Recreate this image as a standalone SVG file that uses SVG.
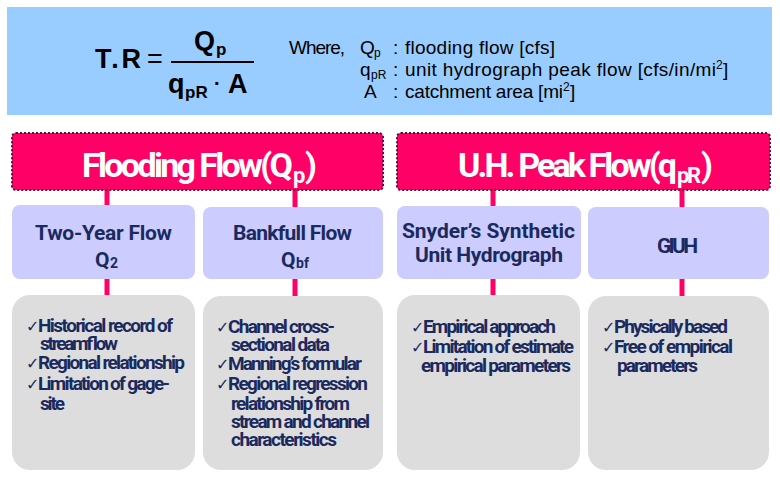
<svg xmlns="http://www.w3.org/2000/svg" width="780" height="482" viewBox="0 0 780 482">
<style>
.f{font-family:"Liberation Sans",Arial,sans-serif;fill:#000}
.fb{font-family:"Liberation Sans",Arial,sans-serif;font-weight:bold;fill:#000}
.hd{font-family:"Roboto","DejaVu Sans Condensed",sans-serif;font-weight:bold;fill:#fff;font-size:34px}
.hs{font-family:"Roboto","DejaVu Sans Condensed",sans-serif;font-weight:bold;fill:#fff;font-size:22px}
.nv{font-family:"Roboto","DejaVu Sans Condensed",sans-serif;font-weight:bold;fill:#1B2A5E;font-size:21px}
.ns{font-family:"Roboto","DejaVu Sans Condensed",sans-serif;font-weight:bold;fill:#1B2A5E;font-size:14px}
.it{font-family:"Roboto","DejaVu Sans Condensed",sans-serif;font-weight:bold;fill:#1B2A5E;font-size:19px}
.ck{font-family:"DejaVu Sans",sans-serif;fill:#1B2A5E;font-size:16px}
.hbox{fill:#FF0066;stroke:#5B0F2E;stroke-width:2;stroke-dasharray:2 2}
.sbox{fill:#CCCCFF}
.gbox{fill:#DDDDDD}
.cn{stroke:#FF0066;stroke-width:5}
</style>
<rect x="7" y="7" width="765" height="108" fill="#99CCFF"/>
<g id="formula">
<text class="fb" x="95" y="68" font-size="27" textLength="46">T.R</text>
<text class="f" x="147" y="68" font-size="27">=</text>
<text class="fb" x="194" y="50" font-size="27">Q</text>
<text class="fb" x="216" y="55" font-size="17">p</text>
<line x1="171" y1="62" x2="254" y2="62" stroke="#000" stroke-width="2"/>
<text class="fb" x="168" y="93" font-size="27">q</text>
<text class="fb" x="185" y="98" font-size="17">pR</text>
<text class="fb" x="214" y="90" font-size="20">·</text>
<text class="fb" x="228" y="93" font-size="27">A</text>
<text class="f" x="289" y="54" font-size="19" textLength="56">Where,</text>
<text class="f" x="360" y="54" font-size="19">Q</text>
<text class="f" x="374" y="57" font-size="12">p</text>
<text class="f" x="393" y="54" font-size="19">:</text>
<text class="f" x="405" y="54" font-size="19" textLength="150">flooding flow [cfs]</text>
<text class="f" x="360" y="76" font-size="19">q</text>
<text class="f" x="371" y="79" font-size="12">pR</text>
<text class="f" x="393" y="76" font-size="19">:</text>
<text class="f" x="405" y="76" font-size="19" textLength="311">unit hydrograph peak flow [cfs/in/mi</text>
<text class="f" x="716" y="69" font-size="12">2</text>
<text class="f" x="723" y="76" font-size="19">]</text>
<text class="f" x="364" y="98" font-size="19">A</text>
<text class="f" x="393" y="98" font-size="19">:</text>
<text class="f" x="405" y="98" font-size="19" textLength="158">catchment area [mi</text>
<text class="f" x="563" y="91" font-size="12">2</text>
<text class="f" x="570" y="98" font-size="19">]</text>
</g>
<g id="connectors">
<line class="cn" x1="107" y1="190" x2="107" y2="206"/>
<line class="cn" x1="295" y1="190" x2="295" y2="207"/>
<line class="cn" x1="493" y1="190" x2="493" y2="206"/>
<line class="cn" x1="682" y1="190" x2="682" y2="207"/>
<line class="cn" x1="107" y1="279" x2="107" y2="295"/>
<line class="cn" x1="295" y1="279" x2="295" y2="296"/>
<line class="cn" x1="493" y1="279" x2="493" y2="295"/>
<line class="cn" x1="682" y1="279" x2="682" y2="296"/>
</g>
<g id="flooding-flow">
<rect class="hbox" x="12" y="133" width="371" height="57" rx="4"/>
<text class="hd" x="82" y="177" textLength="211">Flooding Flow(Q</text>
<text class="hs" x="293" y="183">p</text>
<text class="hd" x="305" y="177">)</text>
</g>
<g id="uh-peak-flow">
<rect class="hbox" x="397" y="133" width="373" height="57" rx="4"/>
<text class="hd" x="458" y="177" textLength="219">U.H. Peak Flow(q</text>
<text class="hs" x="677" y="183" textLength="24">pR</text>
<text class="hd" x="701" y="177">)</text>
</g>
<g id="two-year-flow">
<rect class="sbox" x="12" y="205" width="183" height="74" rx="8"/>
<text class="nv" x="35" y="240" textLength="137">Two-Year Flow</text>
<text class="nv" x="95" y="267">Q</text>
<text class="ns" x="110" y="268">2</text>
</g>
<g id="bankfull-flow">
<rect class="sbox" x="203" y="207" width="180" height="72" rx="8"/>
<text class="nv" x="281" y="267">Q</text>
<text class="nv" x="233" y="240" textLength="119">Bankfull Flow</text>
<text class="ns" x="296" y="268">bf</text>
</g>
<g id="snyder">
<rect class="sbox" x="397" y="206" width="184" height="73" rx="8"/>
<text class="nv" x="402" y="238" textLength="173">Snyder’s Synthetic</text>
<text class="nv" x="415" y="262" textLength="148">Unit Hydrograph</text>
</g>
<g id="giuh">
<rect class="sbox" x="588" y="207" width="181" height="72" rx="8"/>
<text class="nv" x="657" y="253" textLength="41">GIUH</text>
</g>
<g id="two-year-notes">
<rect class="gbox" x="12" y="295" width="183" height="175" rx="18"/>
<text class="ck" x="26" y="332">✓</text>
<text class="it" x="38" y="332" textLength="135">Historical record of</text>
<text class="it" x="40" y="350" textLength="78">streamflow</text>
<text class="ck" x="26" y="369">✓</text>
<text class="it" x="38" y="369" textLength="147">Regional relationship</text>
<text class="ck" x="26" y="390">✓</text>
<text class="it" x="38" y="390" textLength="132">Limitation of gage-</text>
<text class="it" x="40" y="410" textLength="25">site</text>
</g>
<g id="bankfull-notes">
<rect class="gbox" x="203" y="296" width="180" height="174" rx="18"/>
<text class="ck" x="216" y="333">✓</text>
<text class="it" x="228" y="333" textLength="107">Channel cross-</text>
<text class="it" x="231" y="351" textLength="99">sectional data</text>
<text class="ck" x="216" y="370">✓</text>
<text class="it" x="228" y="370" textLength="134">Manning’s formular</text>
<text class="ck" x="216" y="390">✓</text>
<text class="it" x="228" y="390" textLength="140">Regional regression</text>
<text class="it" x="231" y="410" textLength="119">relationship from</text>
<text class="it" x="231" y="428" textLength="139">stream and channel</text>
<text class="it" x="231" y="446" textLength="106">characteristics</text>
</g>
<g id="snyder-notes">
<rect class="gbox" x="397" y="295" width="183" height="175" rx="18"/>
<text class="ck" x="411" y="333">✓</text>
<text class="it" x="423" y="333" textLength="133">Empirical approach</text>
<text class="ck" x="411" y="353">✓</text>
<text class="it" x="423" y="353" textLength="151">Limitation of estimate</text>
<text class="it" x="421" y="372" textLength="150">empirical parameters</text>
</g>
<g id="giuh-notes">
<rect class="gbox" x="588" y="296" width="181" height="174" rx="18"/>
<text class="ck" x="602" y="333">✓</text>
<text class="it" x="614" y="333" textLength="114">Physically based</text>
<text class="ck" x="602" y="353">✓</text>
<text class="it" x="614" y="353" textLength="119">Free of empirical</text>
<text class="it" x="617" y="372" textLength="81">parameters</text>
</g>
</svg>
